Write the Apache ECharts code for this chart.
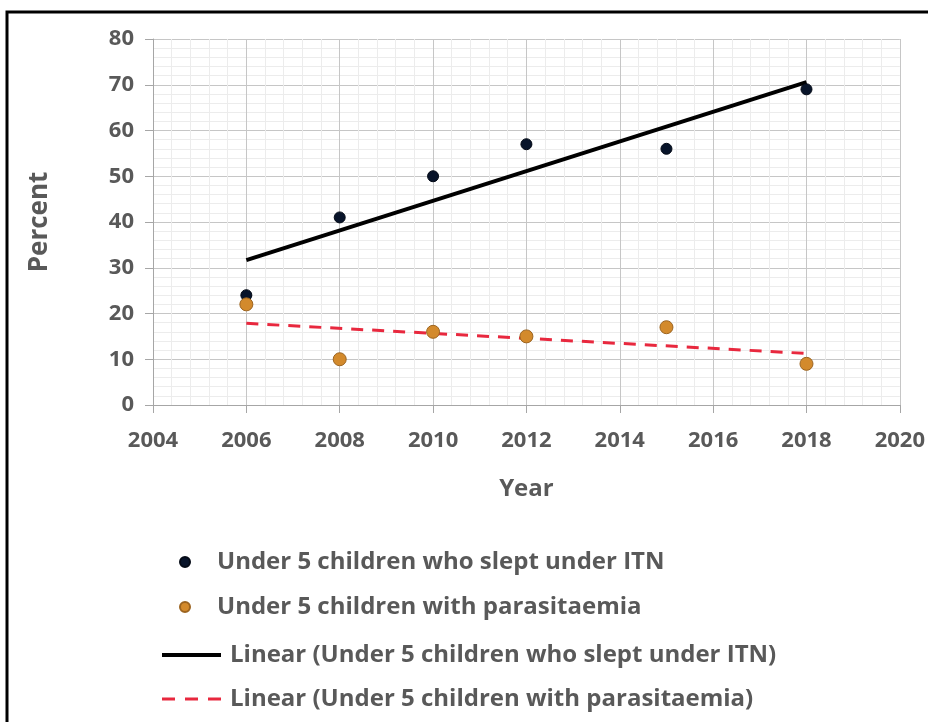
<!DOCTYPE html>
<html>
<head>
<meta charset="utf-8">
<script src="https://cdn.jsdelivr.net/npm/echarts@6/dist/echarts.min.js"></script>
<style>
  html, body { margin: 0; padding: 0; background: #ffffff; }
  #chart { width: 928px; height: 722px; }
</style>
</head>
<body>
<div id="chart"></div>
<script>
// Survey years and measured percentages
const years = [2006, 2008, 2010, 2012, 2015, 2018];
const itnValues = [24, 41, 50, 57, 56, 69];
const parasitaemiaValues = [22, 10, 16, 15, 17, 9];

const xTicks = [2004, 2006, 2008, 2010, 2012, 2014, 2016, 2018, 2020];
const yTicks = [0, 10, 20, 30, 40, 50, 60, 70, 80];

const nameItn = 'Under 5 children who slept under ITN';
const namePara = 'Under 5 children with parasitaemia';
const nameItnFit = 'Linear (Under 5 children who slept under ITN)';
const nameParaFit = 'Linear (Under 5 children with parasitaemia)';

// Least-squares straight line through the points, evaluated at the first and last year
function linearFit(xs, ys) {
  const n = xs.length;
  const mx = xs.reduce((a, b) => a + b, 0) / n;
  const my = ys.reduce((a, b) => a + b, 0) / n;
  let sxy = 0, sxx = 0;
  for (let i = 0; i < n; i++) {
    sxy += (xs[i] - mx) * (ys[i] - my);
    sxx += (xs[i] - mx) * (xs[i] - mx);
  }
  const slope = sxy / sxx;
  const x0 = xs[0], x1 = xs[n - 1];
  return [[x0, my + slope * (x0 - mx)], [x1, my + slope * (x1 - mx)]];
}

const pairs = (xs, ys) => xs.map((x, i) => [x, ys[i]]);

const textGray = '#595959';
const font = '"Open Sans", "Liberation Sans", sans-serif';
const itnColor = '#08142a';
const paraColor = '#d38a2c';
const fitRed = '#e8283e';

const chart = echarts.init(document.getElementById('chart'), null, { renderer: 'canvas' });

chart.setOption({
  animation: false,
  backgroundColor: '#ffffff',
  graphic: [{
    type: 'rect',
    shape: { x: 7, y: 12, width: 940, height: 730 },
    style: { fill: 'none', stroke: '#000000', lineWidth: 3 },
    silent: true,
    z: 100
  }],
  grid: { left: 153, right: 27, top: 39, bottom: 317, containLabel: false },
  xAxis: {
    type: 'value',
    min: xTicks[0],
    max: xTicks[xTicks.length - 1],
    interval: 2,
    name: 'Year',
    nameLocation: 'middle',
    nameGap: 72,
    nameTextStyle: { color: textGray, fontFamily: font, fontWeight: 'bold', fontSize: 24 },
    axisLine: { show: true, onZero: false, lineStyle: { color: '#a6a6a6', width: 1 } },
    axisTick: { show: true, length: 8, lineStyle: { color: '#a6a6a6' } },
    axisLabel: {
      color: textGray, fontFamily: font, fontWeight: 'bold', fontSize: 22, margin: 25,
      showMinLabel: true, showMaxLabel: true,
      formatter: (v) => String(v)
    },
    splitLine: { show: true, lineStyle: { color: '#c6c6c6', width: 1 } },
    minorTick: { show: false, splitNumber: 5 },
    minorSplitLine: { show: true, lineStyle: { color: '#ececec', width: 1 } }
  },
  yAxis: {
    type: 'value',
    min: yTicks[0],
    max: yTicks[yTicks.length - 1],
    interval: 10,
    name: 'Percent',
    nameLocation: 'middle',
    nameGap: 100,
    nameTextStyle: { color: textGray, fontFamily: font, fontWeight: 'bold', fontSize: 26 },
    axisLine: { show: true, lineStyle: { color: '#a6a6a6', width: 1 } },
    axisTick: { show: true, length: 8, lineStyle: { color: '#a6a6a6' } },
    axisLabel: { color: textGray, fontFamily: font, fontWeight: 'bold', fontSize: 22, margin: 19 },
    splitLine: { show: true, lineStyle: { color: '#c6c6c6', width: 1 } },
    minorTick: { show: false, splitNumber: 5 },
    minorSplitLine: { show: true, lineStyle: { color: '#ececec', width: 1 } }
  },
  legend: [
    {
      data: [nameItn, namePara],
      orient: 'vertical',
      left: 179,
      top: 550,
      padding: 0,
      itemWidth: 10,
      itemHeight: 10,
      itemGap: 21,
      icon: 'circle',
      textStyle: { color: textGray, fontFamily: font, fontWeight: 'bold', fontSize: 24, padding: [0, 0, 0, 22] },
      selectedMode: false
    },
    {
      data: [
        { name: nameItnFit, lineStyle: { width: 4 } },
        { name: nameParaFit, lineStyle: { width: 3, type: [13, 10] } }
      ],
      orient: 'vertical',
      left: 160,
      top: 643,
      padding: 0,
      itemWidth: 59,
      itemHeight: 14,
      itemGap: 20,
      itemStyle: { opacity: 0 },
      textStyle: { color: textGray, fontFamily: font, fontWeight: 'bold', fontSize: 24, padding: [0, 0, 0, 4] },
      selectedMode: false
    }
  ],
  series: [
    {
      name: nameItnFit,
      type: 'line',
      data: linearFit(years, itnValues),
      symbol: 'none',
      lineStyle: { color: '#000000', width: 4 },
      itemStyle: { color: '#000000' },
      z: 2
    },
    {
      name: nameParaFit,
      type: 'line',
      data: linearFit(years, parasitaemiaValues),
      symbol: 'none',
      lineStyle: { color: fitRed, width: 3, type: [12, 9] },
      itemStyle: { color: fitRed },
      z: 2
    },
    {
      name: nameItn,
      type: 'scatter',
      data: pairs(years, itnValues),
      symbol: 'circle',
      symbolSize: 11,
      itemStyle: { color: itnColor, borderColor: '#040a16', borderWidth: 1, opacity: 1 },
      z: 3
    },
    {
      name: namePara,
      type: 'scatter',
      data: pairs(years, parasitaemiaValues),
      symbol: 'circle',
      symbolSize: 13,
      itemStyle: { color: paraColor, borderColor: '#9c6420', borderWidth: 1, opacity: 1 },
      z: 3
    }
  ]
});
</script>
</body>
</html>
